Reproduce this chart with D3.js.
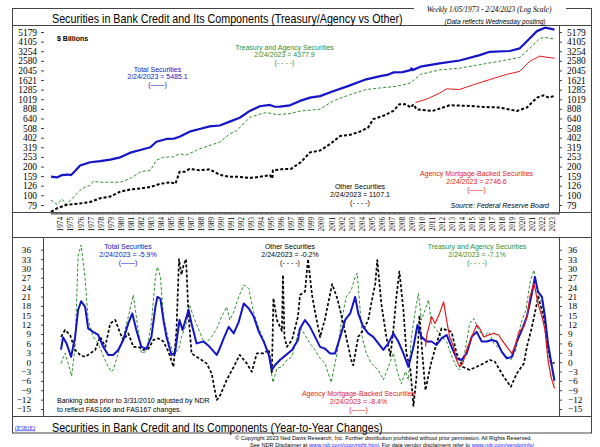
<!DOCTYPE html>
<html><head><meta charset="utf-8">
<script src="https://cdn.jsdelivr.net/npm/d3@7"></script>
<style>
body{margin:0;background:#fff;}
svg{display:block;}
text{font-family:"Liberation Sans",Arial,sans-serif;}
.num{font-family:"Liberation Serif","Times New Roman",serif;}
</style></head><body>
<svg id="c" width="600" height="447"></svg>
<script>
// ---------- tick labels ----------
const topTicks = [79,100,126,159,200,253,319,402,508,640,808,1019,1285,1621,2045,2580,3254,4105,5179];
const bottomTicks = [-15,-12,-9,-6,-3,0,3,6,9,12,15,18,21,24,27,30,33,36];
const yearLabels = d3.range(1974, 2024);

// ---------- top panel: levels ($ billions), [year, value] ----------
const totalLevel = [[1973.0,157],[1973.6,154],[1974.1,163],[1974.7,165],[1975.0,163],[1975.4,180],[1975.9,205],[1976.9,222],[1977.9,228],[1978.9,237],[1979.9,250],[1980.9,280],[1981.9,299],[1982.9,319],[1983.5,365],[1984.5,390],[1985.2,392],[1985.8,412],[1986.8,465],[1987.8,496],[1988.8,528],[1989.8,540],[1990.8,593],[1991.8,651],[1992.8,768],[1993.8,860],[1994.8,888],[1995.3,850],[1995.8,852],[1996.8,880],[1997.8,979],[1998.8,1060],[1999.8,1099],[2001.1,1236],[2002.5,1390],[2003.8,1563],[2004.4,1650],[2005.8,1780],[2006.6,1850],[2007.1,1950],[2008.0,1960],[2008.8,2060],[2008.9,2150],[2009.0,2060],[2009.8,2240],[2011.7,2430],[2013.7,2600],[2015.7,2960],[2016.7,3210],[2018.7,3270],[2019.7,3490],[2020.7,4450],[2021.4,5290],[2022.2,5750],[2022.6,5650],[2023.15,5485.1]];
const treasuryLevel = [[1973.0,89],[1973.6,80],[1974.1,91],[1974.5,80],[1975.05,91],[1975.9,113],[1976.4,122],[1976.9,127],[1977.2,140],[1977.9,137],[1979.9,137],[1980.9,150],[1981.9,176],[1982.9,183],[1983.5,233],[1984.2,250],[1985.2,254],[1985.8,272],[1986.5,265],[1987.8,307],[1989.8,361],[1990.8,441],[1991.5,478],[1992.8,658],[1993.8,712],[1994.5,739],[1995.5,702],[1996.8,720],[1997.8,765],[1999.8,800],[2001.1,979],[2002.8,1140],[2004.4,1290],[2005.8,1340],[2007.4,1390],[2008.8,1510],[2009.8,1860],[2011.7,2070],[2013.7,2160],[2015.7,2350],[2017.7,2560],[2019.7,2800],[2020.7,3500],[2021.7,4450],[2022.2,4550],[2023.15,4377.9]];
const otherLevel = [[1973.0,67],[1973.6,73],[1974.5,79],[1975.9,82],[1976.9,85],[1977.9,93],[1978.9,97],[1979.9,109],[1980.9,115],[1981.9,118],[1982.9,122],[1983.9,132],[1984.9,137],[1985.4,132],[1985.8,176],[1986.3,176],[1986.8,189],[1987.8,183],[1988.8,187],[1989.8,164],[1990.8,156],[1991.8,156],[1992.8,152],[1993.8,156],[1994.8,163],[1995.05,150],[1995.1,183],[1996.3,189],[1996.9,189],[1997.9,223],[1998.8,282],[1999.8,295],[2000.8,345],[2001.8,419],[2002.8,431],[2003.8,467],[2004.6,516],[2005.1,630],[2006.1,683],[2007.1,768],[2007.7,904],[2008.4,904],[2008.8,833],[2009.1,900],[2009.4,800],[2011.0,768],[2012.7,880],[2014.4,870],[2016.1,847],[2017.7,833],[2019.4,768],[2020.4,833],[2021.4,1060],[2022.1,1121],[2022.6,1060],[2023.15,1107.1]];
const mbsLevel = [[2009.3,940],[2010.4,1020],[2011.7,1180],[2012.4,1310],[2013.7,1290],[2015.1,1450],[2016.7,1640],[2018.4,1860],[2019.7,2000],[2020.7,2560],[2021.7,2890],[2022.4,2810],[2023.15,2746.6]];

// ---------- bottom panel: year-to-year % change, [year, value] ----------
const totalYoY = [[1974.0,4],[1974.2,8],[1974.55,6],[1975.0,1.7],[1975.4,8],[1975.7,16.7],[1976.0,19.5],[1976.4,17.7],[1976.7,10.8],[1977.2,9.7],[1977.7,8.7],[1978.2,4.9],[1978.7,2.3],[1979.2,2.3],[1979.7,3.9],[1980.2,7.1],[1980.7,12.4],[1981.1,15.6],[1981.5,10.3],[1982.0,4.9],[1982.5,4.3],[1983.0,8.1],[1983.4,17.7],[1983.6,20.9],[1983.9,20.3],[1984.2,13.5],[1984.5,8.1],[1985.0,2.3],[1985.35,2.9],[1985.8,13.5],[1986.1,10.3],[1986.7,16.7],[1987.0,12.4],[1987.5,6.0],[1988.2,6.6],[1988.8,4.9],[1989.5,2.3],[1989.8,4.3],[1990.2,7.6],[1990.7,11.3],[1991.2,9.2],[1991.7,12.9],[1992.2,18.8],[1992.7,17.2],[1993.2,14.5],[1993.7,9.7],[1994.2,6.5],[1994.7,2.3],[1995.0,-2.5],[1995.3,-1],[1995.8,0.7],[1996.3,2],[1997.0,3.9],[1997.6,7.1],[1997.8,10.8],[1998.3,13.5],[1998.8,11.3],[1999.3,8.1],[1999.8,4.9],[2000.3,4.3],[2000.8,2.8],[2001.3,2.8],[2001.8,8.1],[2002.3,13.5],[2002.8,15.6],[2003.3,20.9],[2003.6,15.6],[2004.1,11.3],[2004.6,9.2],[2005.1,8.1],[2005.6,6.0],[2006.1,3.9],[2006.6,6],[2007.1,9.2],[2007.6,6.6],[2008.1,2.8],[2008.6,-1.5],[2009.1,4.9],[2009.5,11.9],[2009.9,8.1],[2010.4,6.6],[2010.9,6.6],[2011.4,5.5],[2011.9,7.6],[2012.4,8.7],[2012.9,4.9],[2013.4,1.2],[2013.9,0.7],[2014.4,2.8],[2014.9,8.1],[2015.4,9.7],[2015.9,6.6],[2016.4,6.6],[2016.9,7.1],[2017.4,6.6],[2017.9,3.3],[2018.4,1.2],[2018.9,1.7],[2019.4,6.6],[2019.9,10.3],[2020.4,14.6],[2020.9,22],[2021.2,27.3],[2021.5,22.6],[2021.9,20.9],[2022.2,14.6],[2022.5,6.0],[2022.9,-1.5],[2023.15,-5.9]];
const treasuryYoY = [[1974.0,-0.4],[1974.4,2.9],[1974.9,-2.5],[1975.05,-4.5],[1975.4,4.9],[1975.7,34],[1976.0,37.5],[1976.4,26.8],[1976.7,13.5],[1977.2,8.1],[1977.7,6],[1978.2,2],[1978.7,-1.5],[1979.0,-3.1],[1979.2,-2.5],[1979.7,2.9],[1980.2,8.1],[1980.7,14.5],[1981.2,21.5],[1981.5,14.6],[1982.0,2.9],[1982.5,3.4],[1983.0,12.4],[1983.4,27.3],[1983.6,30.5],[1983.9,27.3],[1984.2,14.6],[1984.7,7.1],[1985.2,2.9],[1985.7,3.9],[1986.0,8.1],[1986.5,12.4],[1986.8,18.3],[1987.2,14.6],[1987.8,9.7],[1988.3,6.0],[1988.9,7.6],[1989.5,10.8],[1990.0,14.6],[1990.5,17.7],[1990.8,13.5],[1991.2,16.1],[1991.7,20.9],[1992.2,24.7],[1992.7,23.6],[1993.2,15.6],[1993.7,10.8],[1994.2,7.1],[1994.7,2],[1995.1,-6.5],[1995.5,-2],[1996.0,-1.5],[1996.5,0.7],[1997.0,1.7],[1997.6,9.2],[1997.8,11.3],[1998.3,8.7],[1998.8,6.0],[1999.3,3.9],[1999.8,1.2],[2000.3,-0.4],[2000.9,-6.5],[2001.5,2.9],[2001.9,12.4],[2002.4,20.9],[2002.9,23],[2003.3,27.3],[2003.5,28.5],[2004.0,8.1],[2004.4,2.9],[2004.9,-0.4],[2005.6,-2.5],[2006.1,-5.7],[2006.6,-1.5],[2007.1,2.9],[2007.5,-3],[2007.9,-7],[2008.3,-3],[2008.6,-5.7],[2008.9,8.1],[2009.3,16.7],[2009.6,22],[2009.9,13.5],[2010.25,16.7],[2010.6,19.9],[2010.9,12.4],[2011.4,10.3],[2011.9,8.1],[2012.4,6.6],[2012.9,2],[2013.4,-1.5],[2013.7,-2.5],[2014.2,2.9],[2014.7,12.4],[2015.1,14],[2015.6,10.3],[2016.1,8.1],[2016.6,9.7],[2017.1,6],[2017.8,3.9],[2018.3,2],[2018.8,0.7],[2019.3,3.9],[2019.8,12.4],[2020.3,16.7],[2020.7,25.2],[2021.1,29.5],[2021.4,22.6],[2021.9,18.8],[2022.2,13.5],[2022.5,4.9],[2022.9,-2.5],[2023.15,-7.1]];
const otherYoY = [[1974.0,8.1],[1974.4,10.3],[1974.9,8.7],[1975.4,3.9],[1975.9,2.3],[1976.4,1.7],[1976.9,2.8],[1977.4,3.9],[1977.9,8.1],[1978.4,4.9],[1978.9,12.4],[1979.4,13.5],[1979.9,9.2],[1980.2,7.1],[1980.7,9.2],[1981.2,4.9],[1981.7,4.9],[1982.2,3.9],[1982.7,4.3],[1983.2,7.1],[1983.7,7.6],[1984.2,6.6],[1984.7,3.3],[1985.2,-1.5],[1985.5,10.3],[1985.75,33],[1986.0,28],[1986.2,31],[1986.45,33],[1986.7,15],[1987.0,2.8],[1987.5,1.7],[1988.0,0.7],[1988.5,-0.4],[1989.0,-3.6],[1989.5,-12.1],[1989.8,-11],[1990.5,-5.7],[1991.2,-1.5],[1991.8,2.3],[1992.5,-0.4],[1993.0,-3.1],[1993.5,2.8],[1994.2,2.8],[1994.7,4],[1995.0,-3.6],[1995.15,20.5],[1995.5,13.5],[1996.0,10],[1996.1,27.9],[1996.25,8],[1996.5,4.9],[1997.0,7.1],[1997.6,14.6],[1997.8,21.5],[1998.3,22.6],[1998.6,33],[1999.0,21.5],[1999.3,16.1],[1999.8,8],[2000.3,14],[2001.0,25],[2001.5,20.5],[2001.8,16.7],[2002.4,8.1],[2002.9,0.7],[2003.1,-1],[2003.6,8.1],[2004.1,10.3],[2004.6,13.5],[2004.9,18.8],[2005.3,25.2],[2005.5,32.7],[2005.9,18.8],[2006.4,8.1],[2006.8,2],[2007.1,10.3],[2007.4,20.9],[2007.7,29],[2008.1,16.7],[2008.4,2.8],[2008.8,-2.5],[2009.1,-14],[2009.4,-5],[2009.7,15],[2010.0,2],[2010.3,-9],[2010.8,-1],[2011.4,6],[2011.9,10.8],[2012.9,9.7],[2013.4,2.8],[2014.0,-1.5],[2014.7,-2.5],[2015.4,-1.5],[2016.1,-0.4],[2016.7,0.7],[2017.2,0.2],[2017.7,-2.5],[2018.1,-4.7],[2018.8,-7.9],[2019.4,-3.6],[2020.1,-0.4],[2020.4,4.9],[2020.9,11.3],[2021.4,18.8],[2021.5,20.9],[2021.9,16.7],[2022.2,11.3],[2022.5,3.9],[2022.8,-0.4],[2023.15,-0.2]];
const mbsYoY = [[2010.3,5],[2010.45,9],[2010.9,14.6],[2011.25,12.4],[2011.7,15.6],[2012.1,19.3],[2012.4,13.5],[2012.7,8.1],[2013.1,4.9],[2013.4,0.7],[2013.7,-1.5],[2014.0,-0.4],[2014.4,3.9],[2014.9,8.1],[2015.4,11.9],[2015.7,10.8],[2016.1,8.1],[2016.6,8.7],[2017.1,9.2],[2017.6,8.7],[2017.9,7.1],[2018.4,4.9],[2018.9,2.8],[2019.2,4.9],[2019.6,9.7],[2020.1,11.3],[2020.4,14.6],[2020.7,20.9],[2021.1,25.2],[2021.25,23],[2021.5,18.8],[2021.9,14.6],[2022.2,10.3],[2022.5,0.7],[2022.8,-4.7],[2023.15,-8.4]];

// ---------- styles ----------
const C = {blue:"#1414c8", green:"#2f8f2f", red:"#e31a1c", black:"#000"};

const svg = d3.select("#c");
const L = 44, R = 559;
const x = d3.scaleLinear().domain([1973.0, 2023.0]).range([51, 553]);
const yTop = d3.scaleLog().domain([79, 5179]).range([205, 32]);
const yBot = d3.scaleLinear().domain([-15, 36]).range([409, 249.7]);

// frame
svg.append("rect").attr("x",12.5).attr("y",8.5).attr("width",579).attr("height",424.5).attr("fill","#fff").attr("stroke","#444").attr("stroke-width",1);
const hl = (y,x1=12.5,x2=591.5)=>svg.append("line").attr("x1",x1).attr("x2",x2).attr("y1",y).attr("y2",y).attr("stroke","#444");
const vl = (xx,y1,y2)=>svg.append("line").attr("x1",xx).attr("x2",xx).attr("y1",y1).attr("y2",y2).attr("stroke","#444");
hl(25.5); hl(212.5); hl(237.5); hl(416.5);
vl(R+0.5,25.5,212.5); vl(R+0.5,237.5,416.5); vl(L-0.5,237.5,416.5);

// condensed title helper: scale horizontally to the wanted width
function condensed(xx, yy, size, width, str){
  const g = svg.append("g").attr("transform",`translate(${xx},${yy})`);
  const t = g.append("text").attr("font-size",size+"px").text(str);
  const w = t.node().getComputedTextLength();
  t.attr("transform",`scale(${width/w},1)`);
  return t;
}

// top header
svg.append("rect").attr("x",414).attr("y",3).attr("width",152).attr("height",21).attr("fill","#fff");
condensed(52, 23, 13, 351, "Securities in Bank Credit and Its Components (Treasury/Agency vs Other)");
svg.append("text").attr("class","num").attr("x",489).attr("y",12.3).attr("text-anchor","middle").attr("font-size","7.4px").attr("font-style","italic")
  .text("Weekly 1/05/1973 - 2/24/2023 (Log Scale)");
svg.append("text").attr("x",495).attr("y",23.8).attr("text-anchor","middle").attr("font-size","6.6px").attr("font-style","italic")
  .text("(Data reflects Wednesday posting)");

// clip paths
const defs = svg.append("defs");
defs.append("clipPath").attr("id","clipTop").append("rect").attr("x",L).attr("y",26).attr("width",R-L).attr("height",186);
defs.append("clipPath").attr("id","clipBot").append("rect").attr("x",L).attr("y",238).attr("width",R-L).attr("height",178);

// top axes
const axL = svg.append("g").attr("transform",`translate(${L},0)`)
  .call(d3.axisLeft(yTop).tickValues(topTicks).tickFormat(d3.format("d")).tickSize(3).tickPadding(4));
const axR = svg.append("g").attr("transform",`translate(${R},0)`)
  .call(d3.axisRight(yTop).tickValues(topTicks).tickFormat(d3.format("d")).tickSize(3).tickPadding(5));
[axL,axR].forEach(g=>{g.select(".domain").remove(); g.selectAll("text").attr("class","num").attr("font-size","9.4px").attr("fill","#000"); g.selectAll("line").attr("stroke","#444");});

// x axis (minor monthly ticks + rotated year labels)
const months = d3.range(1973, 2023.6, 1/12);
const axX = svg.append("g").attr("transform","translate(0,212.5)")
  .call(d3.axisBottom(x).tickValues(months).tickSize(2).tickFormat(""));
axX.select(".domain").remove(); axX.selectAll("line").attr("stroke","#666");
svg.append("g").selectAll("text").data(yearLabels).join("text")
  .attr("class","num").attr("font-size","7.2px").attr("text-anchor","end")
  .attr("transform",d=>`translate(${x(d)},217) rotate(-90)`).attr("dy","0.33em").text(d=>d);

// bottom axes
const bL = svg.append("g").attr("transform",`translate(${L},0)`)
  .call(d3.axisLeft(yBot).tickValues(bottomTicks).tickSize(3).tickPadding(10));
const bR = svg.append("g").attr("transform",`translate(${R},0)`)
  .call(d3.axisRight(yBot).tickValues(bottomTicks).tickSize(3).tickPadding(6));
[bL,bR].forEach(g=>{g.select(".domain").remove(); g.selectAll("text").attr("class","num").attr("font-size","9.2px").attr("fill","#000"); g.selectAll("line").attr("stroke","#444");});

// lines
const lineTop = d3.line().x(d=>x(d[0])).y(d=>yTop(d[1]));
const lineBot = d3.line().x(d=>x(d[0])).y(d=>yBot(d[1]));
const gT = svg.append("g").attr("clip-path","url(#clipTop)");
const gB = svg.append("g").attr("clip-path","url(#clipBot)");
function draw(g, data, gen, color, w, dash){
  g.append("path").datum(data).attr("d",gen).attr("fill","none").attr("stroke",color)
   .attr("stroke-width",w).attr("stroke-dasharray",dash||null).attr("stroke-linejoin","round");
}
draw(gT, totalLevel, lineTop, C.blue, 2.2);
draw(gT, treasuryLevel, lineTop, C.green, 1, "3,2");
draw(gT, mbsLevel, lineTop, C.red, 1);
draw(gT, otherLevel, lineTop, C.black, 2, "3,2");

draw(gB, treasuryYoY, lineBot, C.green, 1, "3,2");
draw(gB, otherYoY, lineBot, C.black, 1.7, "3,2");
draw(gB, totalYoY, lineBot, C.blue, 2);
draw(gB, mbsYoY, lineBot, C.red, 1.2);

// annotations
function block(cx, y0, color, lines, size=7){
  lines.forEach((t,i)=>svg.append("text").attr("x",cx).attr("y",y0+i*7.9).attr("text-anchor","middle")
    .attr("font-size",size+"px").attr("fill",color).text(t));
}
svg.append("text").attr("x",57).attr("y",40.5).attr("font-size","7px").attr("font-weight","bold").text("$ Billions");
block(157.5, 71.5, C.blue, ["Total Securities","2/24/2023 = 5485.1","(\u2014\u2014)"]);
block(284.5, 49.5, C.green, ["Treasury and Agency Securities","2/24/2023 = 4377.9","(- - - -)"]);
block(360, 189, C.black, ["Other Securities","2/24/2023 = 1107.1","(- - - -)"]);
block(476.5, 175.8, C.red, ["Agency Mortgage-Backed Securities","2/24/2023 = 2746.6","(\u2014\u2014)"]);
svg.append("text").attr("x",549).attr("y",208).attr("text-anchor","end").attr("font-size","7px").attr("font-style","italic").text("Source: Federal Reserve Board");

block(128, 249, C.blue, ["Total Securities","2/24/2023 = -5.9%","(\u2014\u2014)"]);
block(290, 249, C.black, ["Other Securities","2/24/2023 = -0.2%","(- - - -)"]);
block(477, 249, C.green, ["Treasury and Agency Securities","2/24/2023 = -7.1%","(- - - -)"]);
block(358.5, 395.8, C.red, ["Agency Mortgage-Backed Securities","2/24/2023 = -8.4%","(\u2014\u2014)"]);
svg.append("text").attr("x",57).attr("y",402.5).attr("font-size","7px").text("Banking data prior to 3/31/2010 adjusted by NDR");
svg.append("text").attr("x",57).attr("y",411.8).attr("font-size","7px").text("to reflect FAS166 and FAS167 changes.");

// footer
svg.append("text").attr("class","num").attr("x",15).attr("y",429.5).attr("font-size","6px").attr("fill","#1a1aff").attr("text-decoration","underline").text("(E581E)");
condensed(52, 432, 13, 331, "Securities in Bank Credit and Its Components (Year-to-Year Changes)");
const c1 = svg.append("text").attr("x",235).attr("y",440).attr("font-size","5.6px");
c1.text("\u00a9 Copyright 2023 Ned Davis Research, Inc.  Further distribution prohibited without prior permission. All Rights Reserved.");
const c2 = svg.append("text").attr("x",250).attr("y",446.5).attr("font-size","5.6px");
c2.append("tspan").text("See NDR Disclaimer at ");
c2.append("tspan").attr("fill","#1a1aff").attr("text-decoration","underline").text("www.ndr.com/copyright.html");
c2.append("tspan").text(". For data vendor disclaimers refer to ");
c2.append("tspan").attr("fill","#1a1aff").attr("text-decoration","underline").text("www.ndr.com/vendorinfo/");
</script>
</body></html>
